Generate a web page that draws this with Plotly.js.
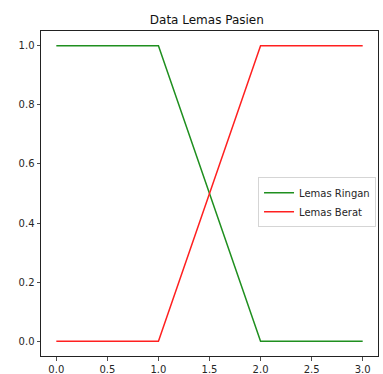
<!DOCTYPE html>
<html><head><meta charset="utf-8">
<script src="https://cdn.plot.ly/plotly-3.0.1.min.js"></script>
<style>html,body{margin:0;padding:0;background:#fff}#c{width:383px;height:374px}</style>
</head><body><div id="c"></div>
<script>
const xVals = [0, 1, 2, 3];
const ringan = [1, 1, 0, 0];
const berat = [0, 0, 1, 1];
const names = ["Lemas Ringan", "Lemas Berat"];
const xTicks = [0, 0.5, 1, 1.5, 2, 2.5, 3];
const xTickText = ["0.0", "0.5", "1.0", "1.5", "2.0", "2.5", "3.0"];
const yTicks = [0, 0.2, 0.4, 0.6, 0.8, 1.0];
const yTickText = ["0.0", "0.2", "0.4", "0.6", "0.8", "1.0"];

const font = {family: "DejaVu Sans", size: 10, color: "#262626"};
const axis = {
  showgrid: false, zeroline: false, showline: true, linecolor: "#222", linewidth: 1,
  mirror: true, ticks: "outside", ticklen: 3.5, tickwidth: 0.8, tickcolor: "#222",
  tickfont: font
};
Plotly.newPlot("c", [
  {x: xVals, y: ringan, name: names[0], mode: "lines", line: {color: "#1f8f1f", width: 1.5}},
  {x: xVals, y: berat, name: names[1], mode: "lines", line: {color: "#ff2020", width: 1.5}}
], {
  width: 383, height: 374,
  margin: {l: 41, r: 5, t: 31, b: 18},
  paper_bgcolor: "#fff", plot_bgcolor: "#fff",
  title: {text: "Data Lemas Pasien", font: {family: "DejaVu Sans", size: 12, color: "#111"}, x: 0.54, xanchor: "center", y: 0.948, yanchor: "middle"},
  xaxis: Object.assign({}, axis, {range: [-0.15, 3.15], tickvals: xTicks, ticktext: xTickText}),
  yaxis: Object.assign({}, axis, {range: [-0.05, 1.05], tickvals: yTicks, ticktext: yTickText}),
  legend: {x: 0.644, y: 0.55, xanchor: "left", yanchor: "top", bgcolor: "#fff", bordercolor: "#d5d5d5", borderwidth: 1, font: font, tracegroupgap: 0, itemwidth: 30},
  showlegend: true
}, {staticPlot: true});
</script></body></html>
